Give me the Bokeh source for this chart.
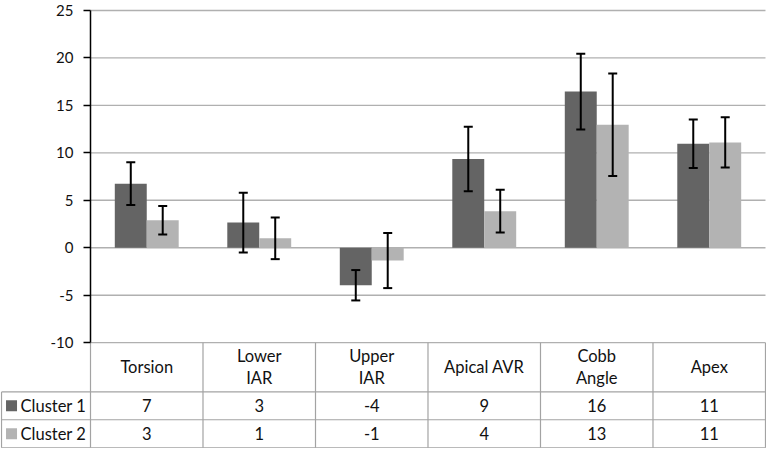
from bokeh.plotting import figure
from bokeh.models import Range1d, FixedTicker, ColumnDataSource, Whisker, TeeHead
from bokeh.core.properties import value
from bokeh.embed import file_html
from bokeh.resources import INLINE

# ---- data ----
categories = ["Torsion", "Lower\nIAR", "Upper\nIAR", "Apical AVR", "Cobb\nAngle", "Apex"]
series_names = ["Cluster 1", "Cluster 2"]
cluster1 = [6.75, 2.65, -3.95, 9.35, 16.45, 10.95]
cluster1_err = [2.25, 3.15, 1.6, 3.4, 4.0, 2.55]
cluster2 = [2.9, 1.0, -1.35, 3.85, 12.95, 11.1]
cluster2_err = [1.5, 2.2, 2.9, 2.25, 5.4, 2.65]
cluster1_table = ["7", "3", "-4", "9", "16", "11"]
cluster2_table = ["3", "1", "-1", "4", "13", "11"]
y_ticks = [-10, -5, 0, 5, 10, 15, 20, 25]

# ---- layout / style ----
FONT = "Lato"
C1 = "#646464"
C2 = "#b3b3b3"
GRID = "#b0b0b0"
TABLE = "#a3a3a3"
BAR_W = 0.284
X_START = -0.8
X_LEFT = -0.791
HEADER_BOTTOM = -15.19
ROW1_BOTTOM = -18.12
ROW2_BOTTOM = -21.07
n = len(categories)

p = figure(width=766, height=448, output_backend="svg", toolbar_location=None,
           x_range=Range1d(X_START, 6.009), y_range=Range1d(-21.15, 26.05),
           x_axis_location=None, min_border=0)
p.outline_line_color = None
p.background_fill_color = "white"
p.border_fill_color = "white"
p.xgrid.visible = False
p.ygrid.visible = False

ax = p.yaxis[0]
ax.fixed_location = 0
ax.bounds = (y_ticks[0], y_ticks[-1])
ax.ticker = FixedTicker(ticks=y_ticks)
ax.major_label_overrides = {t: str(t) for t in y_ticks}
ax.minor_tick_line_color = None
ax.major_tick_in = 0
ax.major_tick_out = 7
ax.major_label_standoff = 10
ax.axis_line_color = "black"
ax.axis_line_width = 1.5
ax.major_tick_line_color = "black"
ax.major_tick_line_width = 1.5
ax.major_label_text_font = FONT
ax.major_label_text_font_size = "15px"
ax.major_label_text_color = "#111111"

# gridlines over the chart area only
p.segment(x0=[0] * len(y_ticks), x1=[n] * len(y_ticks), y0=y_ticks, y1=y_ticks,
          line_color=GRID, line_width=1.4, level="underlay")

# bars
xc = [i + 0.5 for i in range(n)]
x1 = [x - BAR_W / 2 for x in xc]
x2 = [x + BAR_W / 2 for x in xc]
p.vbar(x=x1, width=BAR_W, top=cluster1, bottom=0, fill_color=C1, line_color=None)
p.vbar(x=x2, width=BAR_W, top=cluster2, bottom=0, fill_color=C2, line_color=None)

# error bars
for xs, vals, errs in [(x1, cluster1, cluster1_err), (x2, cluster2, cluster2_err)]:
    src = ColumnDataSource(dict(x=xs,
                                upper=[v + e for v, e in zip(vals, errs)],
                                lower=[v - e for v, e in zip(vals, errs)]))
    w = Whisker(source=src, base="x", upper="upper", lower="lower",
                line_color="black", line_width=2, level="overlay",
                upper_head=TeeHead(size=9, line_width=2, line_color="black"),
                lower_head=TeeHead(size=9, line_width=2, line_color="black"))
    p.add_layout(w)

# data table lines
bounds = list(range(n + 1))
p.segment(x0=bounds, x1=bounds, y0=[y_ticks[0]] * len(bounds), y1=[ROW2_BOTTOM] * len(bounds),
          line_color=TABLE, line_width=1.2)
p.segment(x0=[X_LEFT] * 3, x1=[n] * 3, y0=[HEADER_BOTTOM, ROW1_BOTTOM, ROW2_BOTTOM],
          y1=[HEADER_BOTTOM, ROW1_BOTTOM, ROW2_BOTTOM], line_color=TABLE, line_width=1.2)
p.segment(x0=[X_LEFT], x1=[X_LEFT], y0=[HEADER_BOTTOM], y1=[ROW2_BOTTOM],
          line_color=TABLE, line_width=1.2)

# header labels
p.text(x=xc, y=[(y_ticks[0] + HEADER_BOTTOM) / 2] * n, text=categories,
       text_font=value(FONT), text_font_size=value("16.5px"), text_align="center",
       text_baseline="middle", text_line_height=1.1, text_color="#111111")

# values rows
r1 = (HEADER_BOTTOM + ROW1_BOTTOM) / 2
r2 = (ROW1_BOTTOM + ROW2_BOTTOM) / 2
p.text(x=xc, y=[r1] * n, text=cluster1_table, text_font=value(FONT), text_font_size=value("16.5px"),
       text_align="center", text_baseline="middle", text_color="#111111")
p.text(x=xc, y=[r2] * n, text=cluster2_table, text_font=value(FONT), text_font_size=value("16.5px"),
       text_align="center", text_baseline="middle", text_color="#111111")

# legend keys
p.scatter(x=[X_START + 0.098] * 2, y=[r1, r2], marker="square", size=11,
          fill_color=[C1, C2], line_color=None)
p.text(x=[X_START + 0.178] * 2, y=[r1, r2], text=series_names, text_font=value(FONT),
       text_font_size=value("16.5px"), text_align="left", text_baseline="middle",
       text_color="#111111")

open("out.html", "w").write(file_html(p, INLINE))
